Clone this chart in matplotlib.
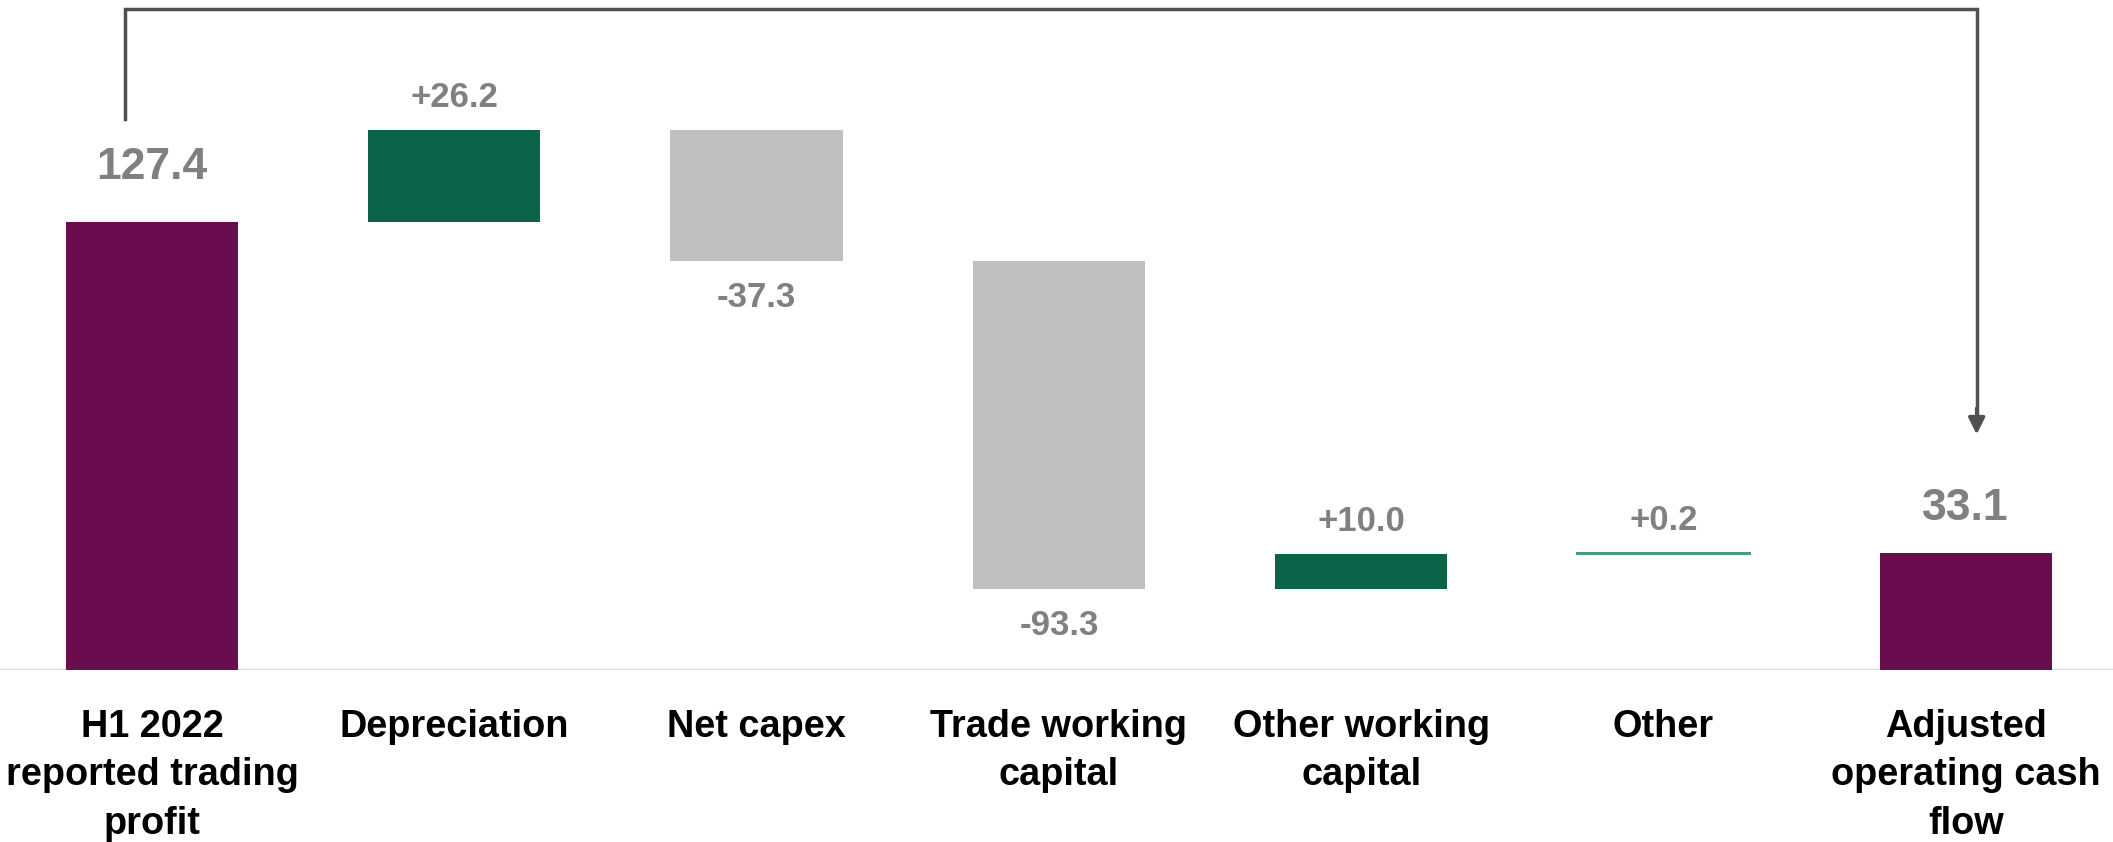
import matplotlib
matplotlib.use('Agg')
import matplotlib.pyplot as plt
import numpy as np

# Данные водопада
categories = ['H1 2022\nreported trading\nprofit', 'Depreciation', 'Net capex',
              'Trade working\ncapital', 'Other working\ncapital', 'Other',
              'Adjusted\noperating cash\nflow']
deltas = [127.4, 26.2, -37.3, -93.3, 10.0, 0.2]
kinds = ['total', 'delta', 'delta', 'delta', 'delta', 'delta', 'total']
value_labels = ['127.4', '+26.2', '-37.3', '-93.3', '+10.0', '+0.2', '33.1']

PURPLE = '#690d4e'
GREEN = '#0b6448'
GREY_BAR = '#c0c0c0'
GREY_TXT = '#808080'

# считаем основания и высоты
bottoms, heights = [], []
running = 0.0
for d in deltas:
    if d >= 0:
        bottoms.append(running)
        heights.append(d)
    else:
        bottoms.append(running + d)
        heights.append(-d)
    running += d
bottoms[0] = 0.0
bottoms.append(0.0)
heights.append(running)

fig = plt.figure(figsize=(21.13, 8.42), dpi=100)
ax = fig.add_axes([0, 172 / 842, 1, 670 / 842])
x = np.arange(len(categories))

colors = []
for i, k in enumerate(kinds):
    if k == 'total':
        colors.append(PURPLE)
    elif deltas[i] >= 0:
        colors.append(GREEN)
    else:
        colors.append(GREY_BAR)

ax.bar(x, heights, bottom=bottoms, width=0.57, color=colors, zorder=3)
# "Other" почти нулевой - тонкая линия
ax.bar(x[5], heights[5], bottom=bottoms[5], width=0.57, color='none',
       edgecolor='#4a9a80', linewidth=1.5, zorder=3)

ax.set_xlim(-0.503, 6.487)
ax.set_ylim(0, 190.5)
ax.axhline(0, color='#d9d9d9', lw=2.5, zorder=2)
for s in ax.spines.values():
    s.set_visible(False)
ax.set_yticks([])
ax.set_xticks([])

font = ['Liberation Sans', 'DejaVu Sans']

# подписи значений
for i in range(len(categories)):
    top = bottoms[i] + heights[i]
    if kinds[i] == 'total':
        off = 39 if i == 0 else 32
        ax.annotate(value_labels[i], (x[i], top), xytext=(0, off), textcoords='offset points',
                    ha='center', va='center', fontsize=32, fontweight='bold',
                    color=GREY_TXT, family=font)
    elif deltas[i] >= 0:
        ax.annotate(value_labels[i], (x[i], top), xytext=(0, 23.5), textcoords='offset points',
                    ha='center', va='center', fontsize=25, fontweight='bold',
                    color=GREY_TXT, family=font)
    else:
        ax.annotate(value_labels[i], (x[i], bottoms[i]), xytext=(0, -26), textcoords='offset points',
                    ha='center', va='center', fontsize=25, fontweight='bold',
                    color=GREY_TXT, family=font)

# подписи категорий
for i, c in enumerate(categories):
    ax.annotate(c, (x[i], 0), xytext=(0, -28), textcoords='offset points',
                ha='center', va='top', fontsize=27.3, fontweight='bold',
                color='black', family=font, linespacing=1.45, annotation_clip=False)

# скобка со стрелкой от первого столбца к последнему
top_y = 188
left_x = x[0] - 0.09
right_x = x[-1] + 0.036
ax.plot([left_x, left_x, right_x, right_x], [deltas[0] + 29.3, top_y, top_y, heights[-1] + 40],
        color='#505050', lw=2.5, zorder=4, solid_joinstyle='miter', clip_on=False)
ax.annotate('', xy=(right_x, heights[-1] + 33), xytext=(right_x, heights[-1] + 42),
            arrowprops=dict(arrowstyle='-|>', color='#505050', lw=2.5, mutation_scale=25),
            annotation_clip=False)

fig.savefig('out.png', dpi=100)
